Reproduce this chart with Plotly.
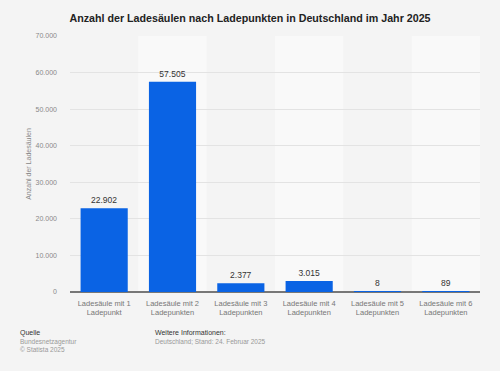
import plotly.graph_objects as go

categories = ["Ladesäule mit 1<br>Ladepunkt", "Ladesäule mit 2<br>Ladepunkten", "Ladesäule mit 3<br>Ladepunkten",
              "Ladesäule mit 4<br>Ladepunkten", "Ladesäule mit 5<br>Ladepunkten", "Ladesäule mit 6<br>Ladepunkten"]
values = [22902, 57505, 2377, 3015, 8, 89]
y_ticks = [0, 10000, 20000, 30000, 40000, 50000, 60000, 70000]

fig = go.Figure()
fig.add_trace(go.Bar(
    x=list(range(len(categories))), y=values,
    marker=dict(color="#0a63e4", line=dict(width=0)),
    width=0.69,
    texttemplate="%{y:,d}", textposition="outside",
    textfont=dict(family="Arial, Liberation Sans, sans-serif", size=8.5, color="#333333"),
    cliponaxis=False,
))

shapes = []
for i in range(len(categories)):
    if i % 2 == 1:
        shapes.append(dict(type="rect", xref="x", yref="paper", x0=i - 0.5, x1=i + 0.5, y0=0, y1=1,
                           fillcolor="#f9f9f9", line=dict(width=0), layer="below"))

fig.update_layout(
    width=500, height=371,
    paper_bgcolor="#f4f4f4", plot_bgcolor="#f4f4f4",
    margin=dict(l=70, r=20, t=36, b=79),
    separators=",.",
    showlegend=False,
    shapes=shapes,
    title=dict(text="<b>Anzahl der Ladesäulen nach Ladepunkten in Deutschland im Jahr 2025</b>",
               x=0.5, xanchor="center", y=0.952, yanchor="middle",
               font=dict(family="Arial, Liberation Sans, sans-serif", size=10.7, color="#222222")),
    font=dict(family="Arial, Liberation Sans, sans-serif"),
)
fig.update_xaxes(
    range=[-0.5, 5.5], tickmode="array", tickvals=list(range(len(categories))), ticktext=categories,
    tickfont=dict(size=7.5, color="#777777"), showgrid=False, showline=False, ticks="", zeroline=False,
    ticklabelstandoff=5,
)
fig.update_yaxes(
    range=[0, 70000], tickmode="array", tickvals=y_ticks, tickformat=",d",
    tickfont=dict(size=7, color="#888888"),
    showgrid=True, gridcolor="#e3e3e3", gridwidth=1,
    zeroline=True, zerolinecolor="#777777", zerolinewidth=1.5,
    ticks="", ticklabelstandoff=12,
    title=dict(text="Anzahl der Ladesäulen", font=dict(size=7, color="#888888"), standoff=3),
)

fig.add_annotation(xref="paper", yref="paper", x=-0.127, y=-0.137, xanchor="left", yanchor="top",
                   text="Quelle", showarrow=False, align="left",
                   font=dict(size=7, color="#333333"))
fig.add_annotation(xref="paper", yref="paper", x=-0.127, y=-0.172, xanchor="left", yanchor="top",
                   text="Bundesnetzagentur<br>© Statista 2025", showarrow=False, align="left",
                   font=dict(size=6.5, color="#999999"))
fig.add_annotation(xref="paper", yref="paper", x=0.202, y=-0.137, xanchor="left", yanchor="top",
                   text="Weitere Informationen:", showarrow=False, align="left",
                   font=dict(size=7, color="#333333"))
fig.add_annotation(xref="paper", yref="paper", x=0.202, y=-0.172, xanchor="left", yanchor="top",
                   text="Deutschland; Stand: 24. Februar 2025", showarrow=False, align="left",
                   font=dict(size=6.5, color="#999999"))

fig.write_html("out.html", config={"displayModeBar": False},
               post_script="document.body.style.margin='0';document.body.style.background='#f4f4f4';")
